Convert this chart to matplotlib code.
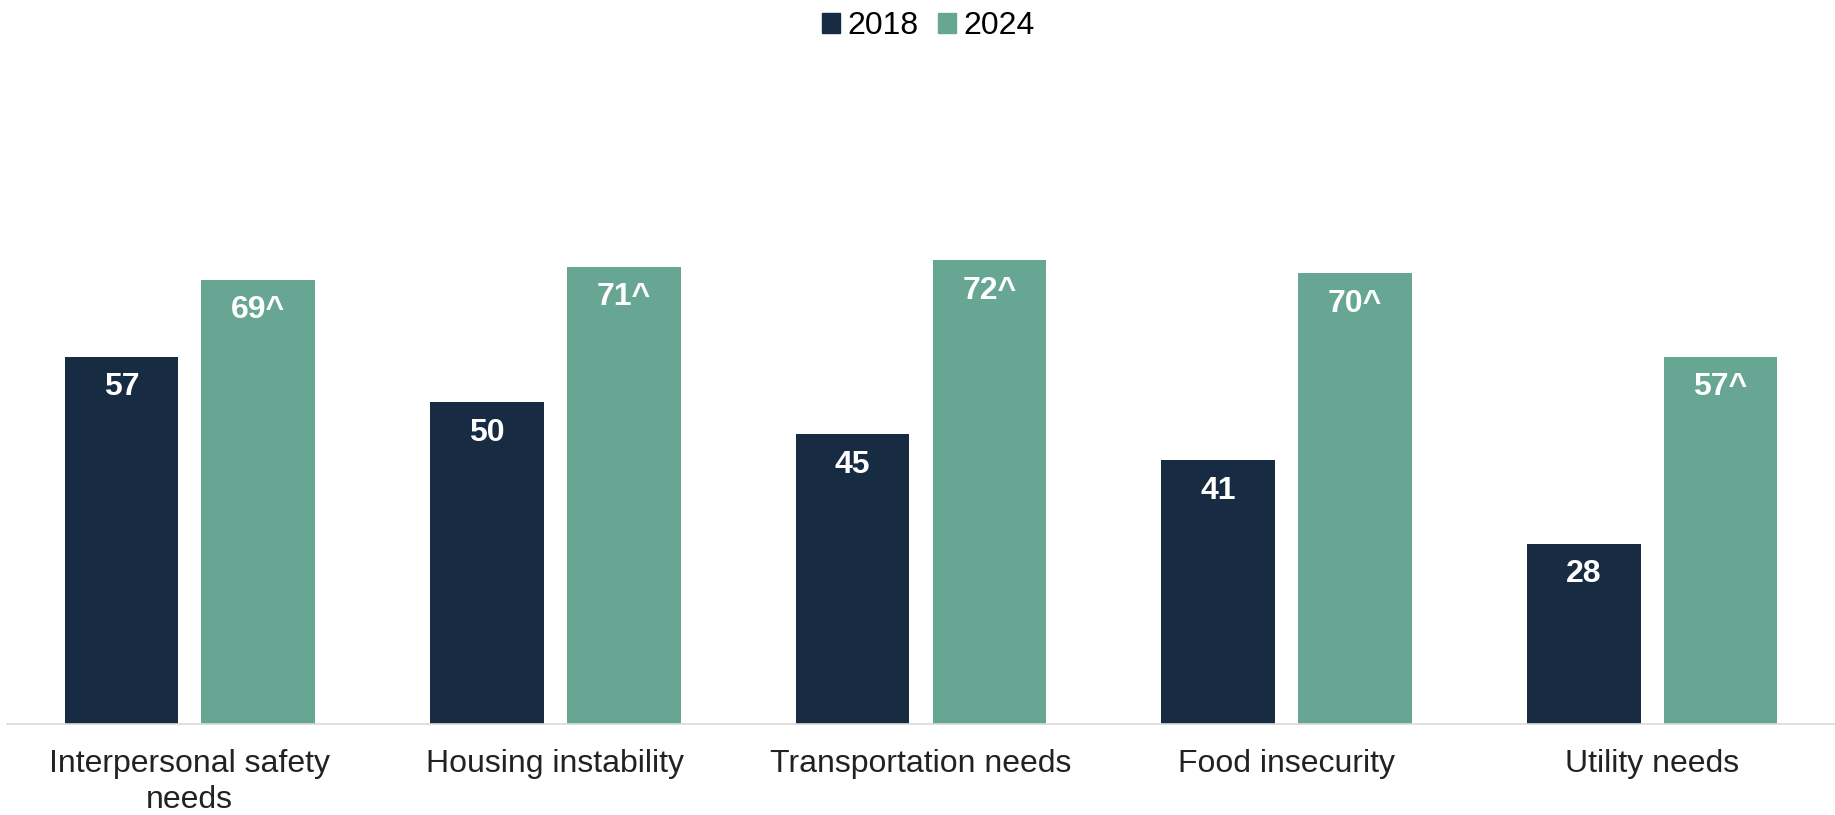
import numpy as np
import matplotlib.pyplot as plt
from matplotlib.patches import Patch

categories = ['Interpersonal safety\nneeds', 'Housing instability', 'Transportation needs',
              'Food insecurity', 'Utility needs']
vals_2018 = [57, 50, 45, 41, 28]
vals_2024 = [69, 71, 72, 70, 57]
labels_2018 = ['57', '50', '45', '41', '28']
labels_2024 = ['69^', '71^', '72^', '70^', '57^']
series_names = ['2018', '2024']

navy = '#172B43'
teal = '#66A693'

plt.rcParams['font.family'] = ['Liberation Sans', 'DejaVu Sans']

fig = plt.figure(figsize=(18.35, 8.15), dpi=100)
ax = fig.add_axes([7 / 1835, 91 / 815, 1828 / 1835, 644 / 815])

x = np.arange(len(categories))
w = 0.311
off = 0.187
b1 = ax.bar(x - off, vals_2018, w, color=navy)
b2 = ax.bar(x + off, vals_2024, w, color=teal)

# value labels sit just inside the top of each bar
for bars, labs in ((b1, labels_2018), (b2, labels_2024)):
    for bar, lab in zip(bars, labs):
        ax.annotate(lab, (bar.get_x() + bar.get_width() / 2, bar.get_height()),
                    xytext=(0, -22), textcoords='offset points',
                    ha='center', va='center', color='white',
                    fontsize=23, fontweight='bold')

ax.set_xlim(-0.5, len(categories) - 0.5)
ax.set_ylim(0, 100)
ax.set_xticks(x)
ax.set_xticklabels(categories, fontsize=23, color='#222222', linespacing=1.25)
ax.tick_params(axis='x', length=0, pad=18)
ax.set_yticks([])
for s in ['top', 'right', 'left']:
    ax.spines[s].set_visible(False)
ax.spines['bottom'].set_color('#D9D9D9')
ax.spines['bottom'].set_linewidth(1.2)

handles = [Patch(color=navy), Patch(color=teal)]
fig.legend(handles, series_names, loc='upper center', bbox_to_anchor=(0.506, 0.99),
           ncol=2, frameon=False, fontsize=23, handlelength=0.55, handleheight=0.55,
           handletextpad=0.25, columnspacing=0.6, borderaxespad=0.0,
           borderpad=0.1)

fig.savefig('out.png', dpi=100)
